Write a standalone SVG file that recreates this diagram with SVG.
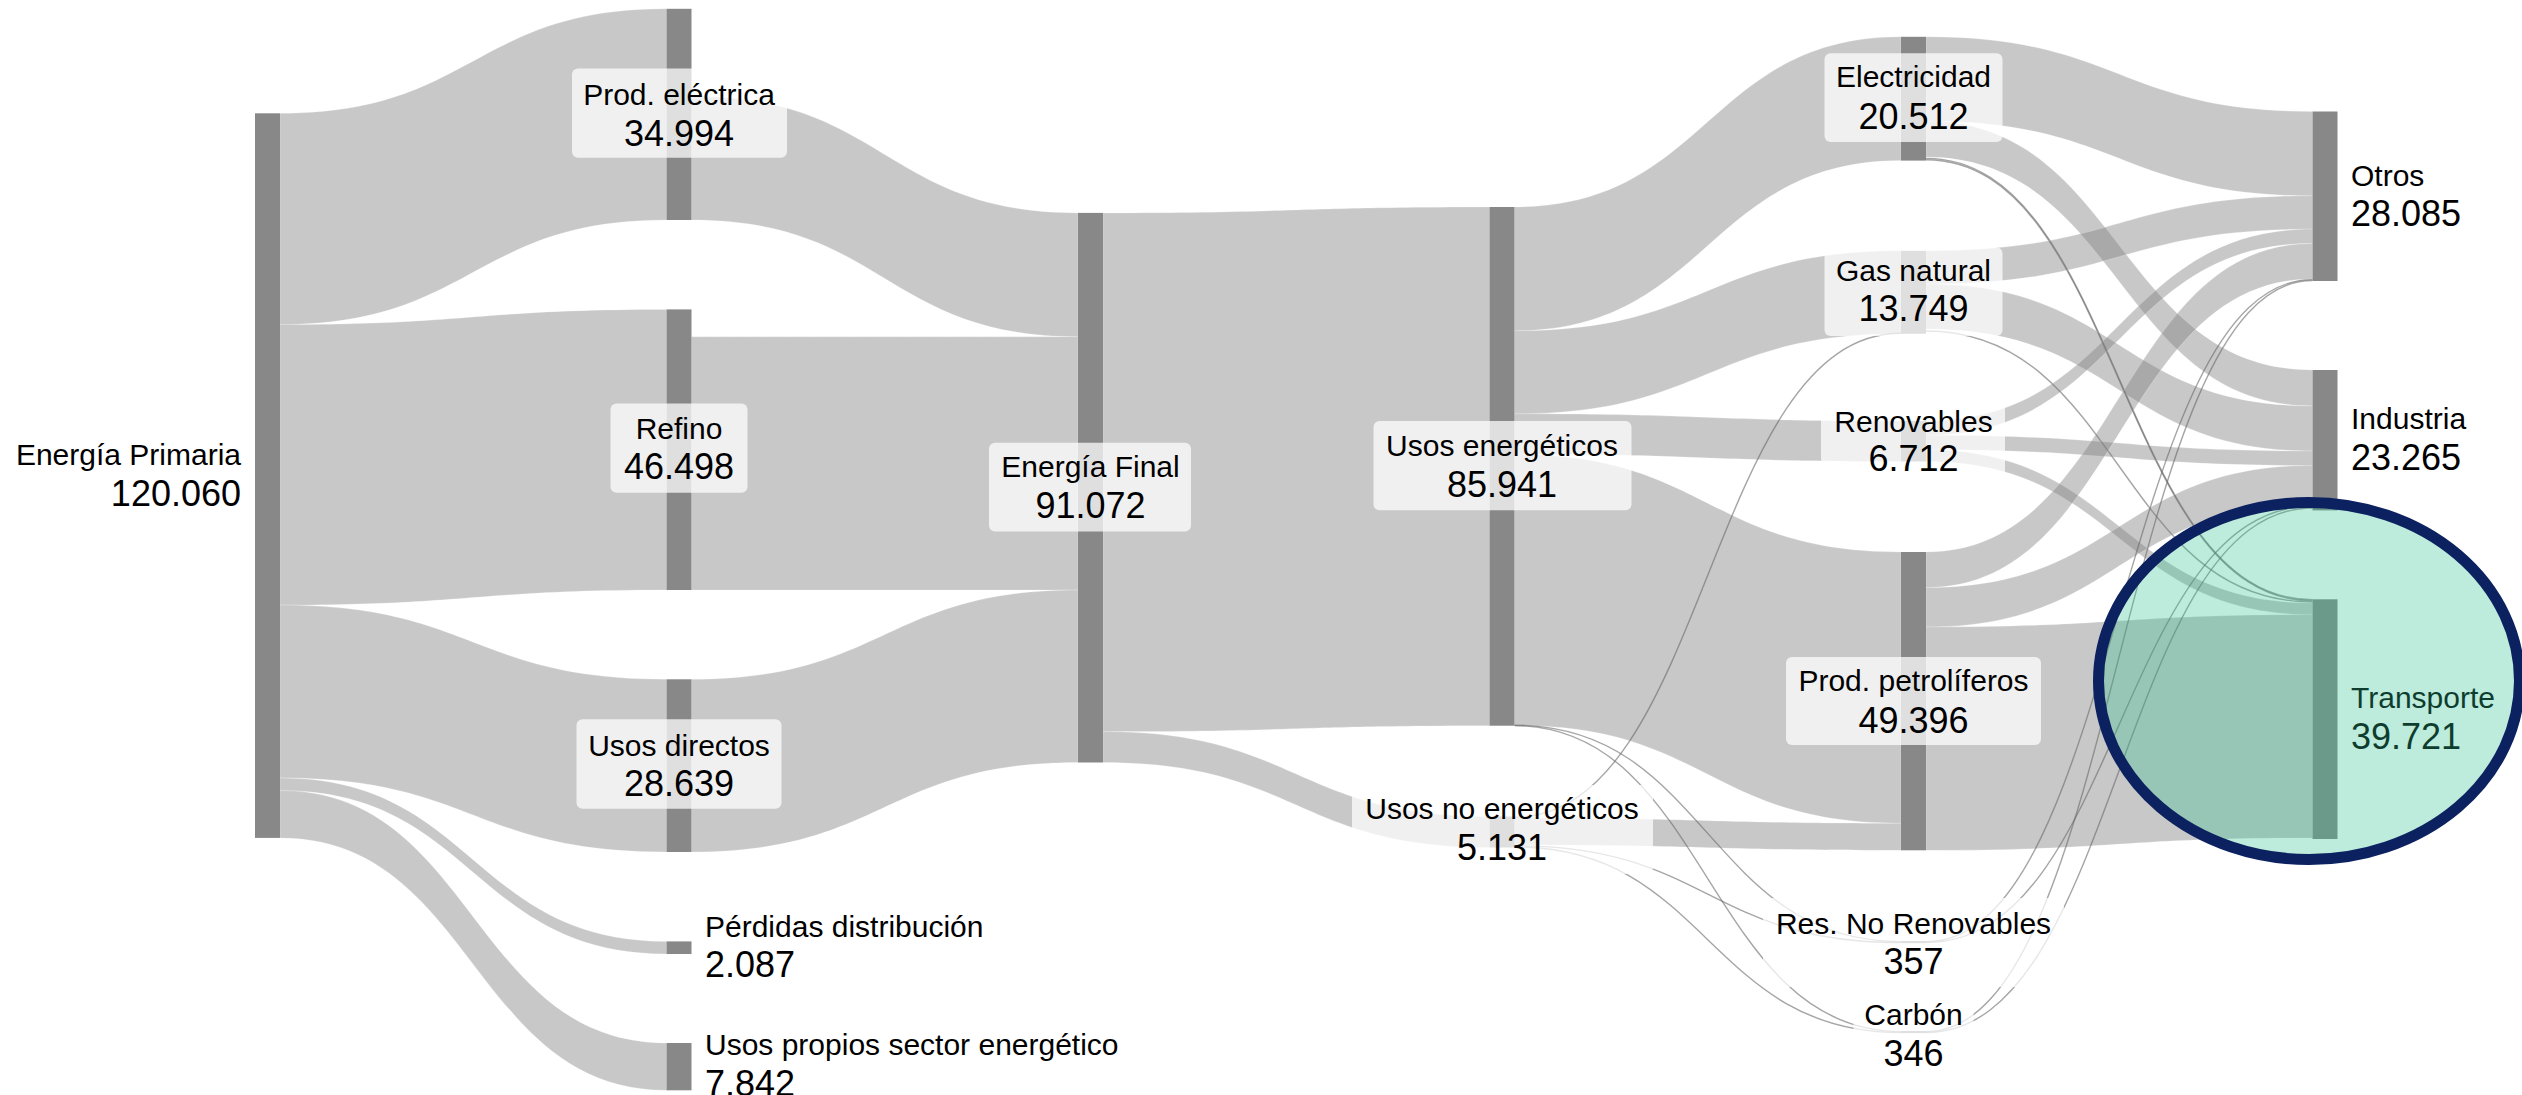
<svg xmlns="http://www.w3.org/2000/svg" width="2522" height="1095" viewBox="0 0 2522 1095">
<style>
.lk{fill:rgb(128,128,128);fill-opacity:0.433;stroke:#fff;stroke-opacity:0.35;stroke-width:0.6}
.th{fill:none;stroke:rgb(105,105,105);stroke-opacity:0.6;stroke-width:1.4}
.nd{fill:#888888}
.lb{fill:#ffffff;fill-opacity:0.73}
.t1{font-family:"Liberation Sans",Arial,sans-serif;font-size:30px;fill:#000}
.t2{font-family:"Liberation Sans",Arial,sans-serif;font-size:36px;fill:#000}
.c{text-anchor:middle}
.e{text-anchor:end}
</style>
<rect x="0" y="0" width="2522" height="1095" fill="#ffffff"/>
<g id="connectors">
<path class="lk" d="M280 113.3C473.25 113.3 473.25 8.8 666.5 8.8L666.5 220C473.25 220 473.25 324.5 280 324.5Z"/>
<path class="lk" d="M280 324.5C473.25 324.5 473.25 309.4 666.5 309.4L666.5 590C473.25 590 473.25 605.1 280 605.1Z"/>
<path class="lk" d="M280 605.1C473.25 605.1 473.25 679.3 666.5 679.3L666.5 852C473.25 852 473.25 777.9 280 777.9Z"/>
<path class="lk" d="M280 777.9C473.25 777.9 473.25 941.4 666.5 941.4L666.5 954C473.25 954 473.25 790.5 280 790.5Z"/>
<path class="lk" d="M280 790.5C473.25 790.5 473.25 1043 666.5 1043L666.5 1090.3C473.25 1090.3 473.25 837.9 280 837.9Z"/>
<path class="lk" d="M691.5 96.2C884.75 96.2 884.75 212.9 1078 212.9L1078 336.7C884.75 336.7 884.75 220 691.5 220Z"/>
<path class="lk" d="M691.5 336.7C884.75 336.7 884.75 336.7 1078 336.7L1078 590C884.75 590 884.75 590 691.5 590Z"/>
<path class="lk" d="M691.5 679.3C884.75 679.3 884.75 590 1078 590L1078 762.5C884.75 762.5 884.75 852 691.5 852Z"/>
<path class="lk" d="M1103 212.9C1296.25 212.9 1296.25 207 1489.5 207L1489.5 725.7C1296.25 725.7 1296.25 731.6 1103 731.6Z"/>
<path class="lk" d="M1103 731.6C1296.25 731.6 1296.25 816.5 1489.5 816.5L1489.5 847.4C1296.25 847.4 1296.25 762.5 1103 762.5Z"/>
<path class="lk" d="M1514.5 207C1707.75 207 1707.75 36.8 1901 36.8L1901 160.6C1707.75 160.6 1707.75 330.8 1514.5 330.8Z"/>
<path class="lk" d="M1514.5 330.8C1707.75 330.8 1707.75 250.8 1901 250.8L1901 333.8C1707.75 333.8 1707.75 413.8 1514.5 413.8Z"/>
<path class="lk" d="M1514.5 413.8C1707.75 413.8 1707.75 421 1901 421L1901 461.5C1707.75 461.5 1707.75 454.3 1514.5 454.3Z"/>
<path class="lk" d="M1514.5 454.3C1707.75 454.3 1707.75 552 1901 552L1901 823.3C1707.75 823.3 1707.75 725.3 1514.5 725.3Z"/>
<path class="lk" d="M1514.5 818C1707.75 818 1707.75 823.3 1901 823.3L1901 850.3C1707.75 850.3 1707.75 845 1514.5 845Z"/>
<path class="th" d="M1514.5 817.2C1707.75 817.2 1707.75 333.3 1901 333.3"/>
<path class="th" d="M1514.5 725.2C1707.75 725.2 1707.75 941.6 1901 941.6"/>
<path class="th" d="M1514.5 725.6C1707.75 725.6 1707.75 1031.6 1901 1031.6"/>
<path class="th" d="M1514.5 845.8C1707.75 845.8 1707.75 942.6 1901 942.6"/>
<path class="th" d="M1514.5 846.8C1707.75 846.8 1707.75 1032.6 1901 1032.6"/>
<path class="lk" d="M1926 36.8C2119.25 36.8 2119.25 111.5 2312.5 111.5L2312.5 195.8C2119.25 195.8 2119.25 121.1 1926 121.1Z"/>
<path class="lk" d="M1926 121.1C2119.25 121.1 2119.25 370 2312.5 370L2312.5 406C2119.25 406 2119.25 157.1 1926 157.1Z"/>
<path class="th" d="M1926 158.4C2119.25 158.4 2119.25 599.8 2312.5 599.8"/>
<path class="th" d="M1926 159.8C2119.25 159.8 2119.25 600.9 2312.5 600.9"/>
<path class="lk" d="M1926 250.8C2119.25 250.8 2119.25 195.8 2312.5 195.8L2312.5 229.1C2119.25 229.1 2119.25 284.1 1926 284.1Z"/>
<path class="lk" d="M1926 284.1C2119.25 284.1 2119.25 406 2312.5 406L2312.5 451C2119.25 451 2119.25 329.1 1926 329.1Z"/>
<path class="th" d="M1926 331C2119.25 331 2119.25 602 2312.5 602"/>
<path class="lk" d="M1926 421C2119.25 421 2119.25 229.1 2312.5 229.1L2312.5 243.4C2119.25 243.4 2119.25 435.3 1926 435.3Z"/>
<path class="lk" d="M1926 435.3C2119.25 435.3 2119.25 451 2312.5 451L2312.5 465.5C2119.25 465.5 2119.25 449.8 1926 449.8Z"/>
<path class="lk" d="M1926 449.8C2119.25 449.8 2119.25 603 2312.5 603L2312.5 614.7C2119.25 614.7 2119.25 461.5 1926 461.5Z"/>
<path class="lk" d="M1926 552C2119.25 552 2119.25 243.4 2312.5 243.4L2312.5 279C2119.25 279 2119.25 587.6 1926 587.6Z"/>
<path class="lk" d="M1926 587.6C2119.25 587.6 2119.25 465.5 2312.5 465.5L2312.5 504.9C2119.25 504.9 2119.25 627 1926 627Z"/>
<path class="lk" d="M1926 627C2119.25 627 2119.25 614.7 2312.5 614.7L2312.5 838C2119.25 838 2119.25 850.3 1926 850.3Z"/>
<path class="th" d="M1926 941.6C2119.25 941.6 2119.25 279.6 2312.5 279.6"/>
<path class="th" d="M1926 942.5C2119.25 942.5 2119.25 506.2 2312.5 506.2"/>
<path class="th" d="M1926 1031.6C2119.25 1031.6 2119.25 280.5 2312.5 280.5"/>
<path class="th" d="M1926 1032.5C2119.25 1032.5 2119.25 508 2312.5 508"/>
</g>
<g id="node-energia-primaria">
<rect class="nd" x="255" y="113.3" width="25" height="724.6"/>
<text class="t1 e" x="241" y="465.3">Energía Primaria</text>
<text class="t2 e" x="241" y="506">120.060</text>
</g>
<g id="node-prod-electrica">
<rect class="nd" x="666.5" y="8.8" width="25" height="211.2"/>
<rect class="lb" x="572" y="68.4" width="215" height="89.4" rx="6"/>
<text class="t1 c" x="679" y="105.4">Prod. eléctrica</text>
<text class="t2 c" x="679" y="145.5">34.994</text>
</g>
<g id="node-refino">
<rect class="nd" x="666.5" y="309.4" width="25" height="280.6"/>
<rect class="lb" x="610.5" y="403.4" width="137" height="89.4" rx="6"/>
<text class="t1 c" x="679" y="439.3">Refino</text>
<text class="t2 c" x="679" y="479.4">46.498</text>
</g>
<g id="node-usos-directos">
<rect class="nd" x="666.5" y="679.3" width="25" height="172.7"/>
<rect class="lb" x="576.5" y="719.3" width="205" height="89.5" rx="6"/>
<text class="t1 c" x="679" y="755.7">Usos directos</text>
<text class="t2 c" x="679" y="796.4">28.639</text>
</g>
<g id="node-perdidas">
<rect class="nd" x="666.5" y="941.4" width="25" height="12.6"/>
<text class="t1" x="705" y="936.6">Pérdidas distribución</text>
<text class="t2" x="705" y="977.4">2.087</text>
</g>
<g id="node-usos-propios">
<rect class="nd" x="666.5" y="1043" width="25" height="47.3"/>
<text class="t1" x="705" y="1055.2">Usos propios sector energético</text>
<text class="t2" x="705" y="1095.6">7.842</text>
</g>
<g id="node-energia-final">
<rect class="nd" x="1078" y="212.9" width="25" height="549.6"/>
<rect class="lb" x="989" y="442.7" width="202" height="88.7" rx="6"/>
<text class="t1 c" x="1090.5" y="477.2">Energía Final</text>
<text class="t2 c" x="1090.5" y="517.9">91.072</text>
</g>
<g id="node-usos-energeticos">
<rect class="nd" x="1489.5" y="207" width="25" height="518.7"/>
<rect class="lb" x="1373.5" y="421" width="258" height="89.3" rx="6"/>
<text class="t1 c" x="1502" y="456.2">Usos energéticos</text>
<text class="t2 c" x="1502" y="496.9">85.941</text>
</g>
<g id="node-usos-no-energeticos">
<rect class="nd" x="1489.5" y="816.5" width="25" height="31"/>
<rect class="lb" x="1352" y="785" width="301" height="89" rx="6"/>
<text class="t1 c" x="1502" y="819.2">Usos no energéticos</text>
<text class="t2 c" x="1502" y="859.9">5.131</text>
</g>
<g id="node-electricidad">
<rect class="nd" x="1901" y="36.8" width="25" height="123.8"/>
<rect class="lb" x="1824.5" y="53.3" width="178" height="88.7" rx="6"/>
<text class="t1 c" x="1913.5" y="87.2">Electricidad</text>
<text class="t2 c" x="1913.5" y="128.6">20.512</text>
</g>
<g id="node-gas-natural">
<rect class="nd" x="1901" y="250.8" width="25" height="83"/>
<rect class="lb" x="1824.5" y="247.3" width="178" height="88.6" rx="6"/>
<text class="t1 c" x="1913.5" y="280.7">Gas natural</text>
<text class="t2 c" x="1913.5" y="320.9">13.749</text>
</g>
<g id="node-renovables">
<rect class="nd" x="1901" y="421" width="25" height="40.5"/>
<rect class="lb" x="1821" y="397" width="184" height="89" rx="6"/>
<text class="t1 c" x="1913.5" y="431.7">Renovables</text>
<text class="t2 c" x="1913.5" y="470.6">6.712</text>
</g>
<g id="node-prod-petroliferos">
<rect class="nd" x="1901" y="552" width="25" height="298.3"/>
<rect class="lb" x="1786" y="656.9" width="255" height="88" rx="6"/>
<text class="t1 c" x="1913.5" y="690.6">Prod. petrolíferos</text>
<text class="t2 c" x="1913.5" y="732.9">49.396</text>
</g>
<g id="node-res-no-renovables">
<rect class="nd" x="1901" y="941" width="25" height="2.2"/>
<rect class="lb" x="1763" y="898" width="301" height="89" rx="6"/>
<text class="t1 c" x="1913.5" y="933.7">Res. No Renovables</text>
<text class="t2 c" x="1913.5" y="974.1">357</text>
</g>
<g id="node-carbon">
<rect class="nd" x="1901" y="1031" width="25" height="2.1"/>
<rect class="lb" x="1853.5" y="990" width="120" height="89" rx="6"/>
<text class="t1 c" x="1913.5" y="1025.4">Carbón</text>
<text class="t2 c" x="1913.5" y="1065.9">346</text>
</g>
<g id="node-otros">
<rect class="nd" x="2312.5" y="111.5" width="25" height="169.5"/>
<text class="t1" x="2351" y="185.7">Otros</text>
<text class="t2" x="2351" y="225.9">28.085</text>
</g>
<g id="node-industria">
<rect class="nd" x="2312.5" y="370" width="25" height="140.4"/>
<text class="t1" x="2351" y="429.2">Industria</text>
<text class="t2" x="2351" y="469.9">23.265</text>
</g>
<g id="node-transporte">
<rect class="nd" x="2312.5" y="599.3" width="25" height="239.7"/>
<text class="t1" x="2351" y="708.2">Transporte</text>
<text class="t2" x="2351" y="749.4">39.721</text>
</g>
<g id="highlight-transporte">
<ellipse cx="2309" cy="681" rx="210.5" ry="178.5" fill="rgb(45,191,143)" fill-opacity="0.314" stroke="#0b2160" stroke-width="11"/>
</g>
</svg>
